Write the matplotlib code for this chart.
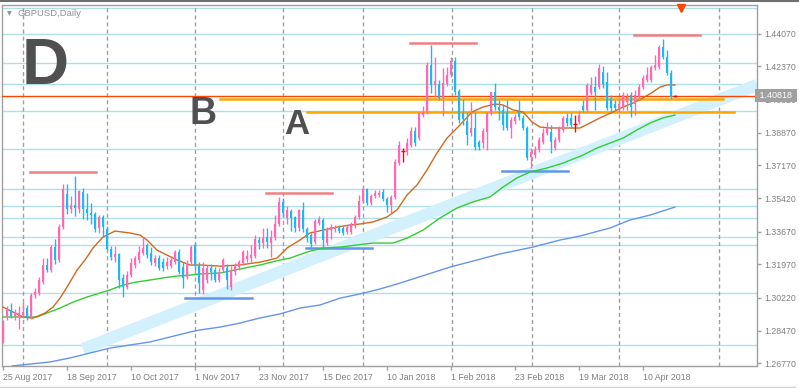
import numpy as np
import matplotlib
matplotlib.use('Agg')
import matplotlib.pyplot as plt
from matplotlib.lines import Line2D
from matplotlib.transforms import blended_transform_factory

plt.rcParams['font.family'] = ['Liberation Sans', 'DejaVu Sans']

## daily GBPUSD candles, one per bar index
opens = [
    1.2794, 1.2920, 1.2956, 1.2925, 1.2920, 1.2930, 1.2967, 1.2920, 1.3035, 1.3046,
    1.3104, 1.3193, 1.3166, 1.3287, 1.3219, 1.3392, 1.3566, 1.3487, 1.3508, 1.3487,
    1.3576, 1.3487, 1.3466, 1.3461, 1.3387, 1.3445, 1.3382, 1.3277, 1.3235, 1.3250,
    1.3125, 1.3077, 1.3140, 1.3193, 1.3219, 1.3256, 1.3298, 1.3256, 1.3203, 1.3229,
    1.3208, 1.3187, 1.3187, 1.3208, 1.3261, 1.3182, 1.3130, 1.3208, 1.3298, 1.3193,
    1.3062, 1.3114, 1.3177, 1.3166, 1.3114, 1.3166, 1.3177, 1.3077, 1.3156, 1.3182,
    1.3203, 1.3224, 1.3229, 1.3240, 1.3324, 1.3308, 1.3340, 1.3308, 1.3340, 1.3408,
    1.3524, 1.3440, 1.3476, 1.3445, 1.3387, 1.3482, 1.3382, 1.3350, 1.3313, 1.3413,
    1.3429, 1.3308, 1.3376, 1.3382, 1.3387, 1.3387, 1.3366, 1.3366, 1.3397, 1.3445,
    1.3529, 1.3592, 1.3518, 1.3555, 1.3560, 1.3576, 1.3539, 1.3508, 1.3550, 1.3728,
    1.3791, 1.3786, 1.3823, 1.3896, 1.3859, 1.3980, 1.3996, 1.4243, 1.4138, 1.4143,
    1.4070, 1.4143, 1.4190, 1.4264, 1.4106, 1.3991, 1.3949, 1.3886, 1.3912, 1.3839,
    1.3833, 1.3891, 1.3991, 1.4101, 1.4022, 1.4007, 1.3996, 1.3912, 1.3949, 1.3996,
    1.3965, 1.3912, 1.3760, 1.3770, 1.3797, 1.3839, 1.3886, 1.3891, 1.3807, 1.3849,
    1.3902, 1.3965, 1.3965, 1.3933, 1.3944, 1.4028, 1.4007, 1.4096, 1.4127, 1.4127,
    1.4206, 1.4154, 1.4070, 1.4038, 1.4017, 1.4022, 1.4049, 1.4085, 1.4038, 1.4075,
    1.4127, 1.4164, 1.4164, 1.4227, 1.4232, 1.4337, 1.4285, 1.4201, 1.4082,
]
highs = [
    1.2904, 1.2977, 1.2993, 1.2962, 1.2977, 1.2998, 1.2983, 1.3046, 1.3072, 1.3130,
    1.3229, 1.3229, 1.3298, 1.3329, 1.3408, 1.3618, 1.3618, 1.3555, 1.3660, 1.3587,
    1.3597, 1.3571, 1.3518, 1.3471, 1.3455, 1.3455, 1.3397, 1.3292, 1.3292, 1.3256,
    1.3146, 1.3161, 1.3229, 1.3240, 1.3292, 1.3340, 1.3308, 1.3287, 1.3245, 1.3245,
    1.3229, 1.3235, 1.3240, 1.3271, 1.3277, 1.3208, 1.3219, 1.3298, 1.3308, 1.3208,
    1.3208, 1.3193, 1.3198, 1.3182, 1.3177, 1.3229, 1.3198, 1.3187, 1.3203, 1.3219,
    1.3271, 1.3271, 1.3298, 1.3350, 1.3340, 1.3387, 1.3387, 1.3376, 1.3455, 1.3550,
    1.3545, 1.3503, 1.3487, 1.3450, 1.3487, 1.3524, 1.3392, 1.3361, 1.3434, 1.3450,
    1.3440, 1.3392, 1.3408, 1.3403, 1.3403, 1.3397, 1.3403, 1.3419, 1.3455, 1.3560,
    1.3602, 1.3597, 1.3566, 1.3587, 1.3587, 1.3592, 1.3550, 1.3560, 1.3749, 1.3844,
    1.3807, 1.3859, 1.3917, 1.3917, 1.3996, 1.4028, 1.4259, 1.4348, 1.4285, 1.4164,
    1.4227, 1.4232, 1.4285, 1.4285, 1.4117, 1.4064, 1.3996, 1.4049, 1.3996, 1.3849,
    1.3912, 1.3996, 1.4101, 1.4148, 1.4059, 1.4033, 1.4059, 1.3970, 1.3986, 1.4059,
    1.3980, 1.3923, 1.3807, 1.3818, 1.3865, 1.3912, 1.3944, 1.3928, 1.3865, 1.3923,
    1.3975, 1.3991, 1.3991, 1.3980, 1.4007, 1.4059, 1.4148, 1.4180, 1.4185, 1.4248,
    1.4238, 1.4206, 1.4085, 1.4059, 1.4070, 1.4101, 1.4096, 1.4101, 1.4112, 1.4143,
    1.4190, 1.4232, 1.4243, 1.4295, 1.4348, 1.4379, 1.4322, 1.4217, 1.4085,
]
lows = [
    1.2783, 1.2904, 1.2914, 1.2904, 1.2857, 1.2914, 1.2904, 1.2909, 1.3019, 1.3035,
    1.3093, 1.3156, 1.3156, 1.3198, 1.3208, 1.3382, 1.3461, 1.3466, 1.3450, 1.3466,
    1.3434, 1.3429, 1.3408, 1.3366, 1.3361, 1.3340, 1.3271, 1.3219, 1.3208, 1.3072,
    1.3025, 1.3067, 1.3130, 1.3177, 1.3203, 1.3245, 1.3229, 1.3193, 1.3187, 1.3166,
    1.3161, 1.3172, 1.3177, 1.3198, 1.3146, 1.3072, 1.3119, 1.3193, 1.3166, 1.3046,
    1.3041, 1.3098, 1.3114, 1.3104, 1.3104, 1.3156, 1.3067, 1.3062, 1.3140, 1.3166,
    1.3193, 1.3208, 1.3208, 1.3229, 1.3277, 1.3282, 1.3282, 1.3235, 1.3324, 1.3397,
    1.3445, 1.3408, 1.3371, 1.3366, 1.3371, 1.3366, 1.3313, 1.3277, 1.3303, 1.3403,
    1.3277, 1.3298, 1.3329, 1.3366, 1.3361, 1.3350, 1.3355, 1.3355, 1.3387, 1.3434,
    1.3518, 1.3508, 1.3508, 1.3545, 1.3550, 1.3529, 1.3471, 1.3466, 1.3539, 1.3718,
    1.3734, 1.3770, 1.3812, 1.3818, 1.3849, 1.3970, 1.3986, 1.4096, 1.4075, 1.4059,
    1.3975, 1.4133, 1.4180, 1.4085, 1.3938, 1.3928, 1.3823, 1.3870, 1.3797, 1.3797,
    1.3807, 1.3797, 1.3980, 1.4007, 1.3954, 1.3902, 1.3902, 1.3859, 1.3933, 1.3954,
    1.3902, 1.3744, 1.3702, 1.3755, 1.3786, 1.3828, 1.3875, 1.3781, 1.3797, 1.3839,
    1.3891, 1.3923, 1.3912, 1.3891, 1.3933, 1.3996, 1.3996, 1.4085, 1.4007, 1.4117,
    1.4122, 1.4007, 1.3996, 1.4007, 1.3996, 1.4007, 1.4007, 1.3970, 1.3980, 1.4059,
    1.4117, 1.4154, 1.4154, 1.4217, 1.4222, 1.4274, 1.4190, 1.4064, 1.4075,
]
closes = [
    1.2888, 1.2956, 1.2925, 1.2946, 1.2941, 1.2946, 1.2920, 1.3035, 1.3051, 1.3114,
    1.3193, 1.3166, 1.3287, 1.3219, 1.3392, 1.3592, 1.3487, 1.3508, 1.3492, 1.3581,
    1.3487, 1.3466, 1.3455, 1.3382, 1.3445, 1.3392, 1.3277, 1.3235, 1.3250, 1.3114,
    1.3077, 1.3140, 1.3203, 1.3229, 1.3261, 1.3282, 1.3245, 1.3208, 1.3229, 1.3177,
    1.3177, 1.3208, 1.3219, 1.3261, 1.3156, 1.3125, 1.3203, 1.3287, 1.3193, 1.3098,
    1.3177, 1.3177, 1.3156, 1.3114, 1.3156, 1.3219, 1.3114, 1.3166, 1.3193, 1.3208,
    1.3261, 1.3240, 1.3245, 1.3329, 1.3308, 1.3334, 1.3313, 1.3340, 1.3408, 1.3524,
    1.3466, 1.3482, 1.3440, 1.3387, 1.3482, 1.3382, 1.3334, 1.3303, 1.3424, 1.3434,
    1.3324, 1.3382, 1.3392, 1.3392, 1.3371, 1.3361, 1.3392, 1.3408, 1.3445, 1.3529,
    1.3592, 1.3518, 1.3555, 1.3571, 1.3571, 1.3539, 1.3508, 1.3550, 1.3734, 1.3823,
    1.3791, 1.3833, 1.3896, 1.3833, 1.3991, 1.3996, 1.4243, 1.4138, 1.4159, 1.4070,
    1.4148, 1.4190, 1.4264, 1.4101, 1.3954, 1.3959, 1.3875, 1.3912, 1.3812, 1.3812,
    1.3896, 1.3991, 1.4101, 1.4022, 1.4007, 1.3928, 1.3912, 1.3954, 1.3970, 1.3970,
    1.3912, 1.3755, 1.3786, 1.3797, 1.3849, 1.3886, 1.3912, 1.3839, 1.3849, 1.3912,
    1.3965, 1.3938, 1.3928, 1.3933, 1.3980, 1.4007, 1.4138, 1.4138, 1.4101, 1.4227,
    1.4143, 1.4017, 1.4017, 1.4017, 1.4038, 1.4085, 1.4075, 1.4022, 1.4085, 1.4127,
    1.4175, 1.4190, 1.4232, 1.4243, 1.4337, 1.4285, 1.4201, 1.4075, 1.4082,
]

date_ticks = [0, 16, 32, 48, 64, 80, 96, 112, 128, 144, 160]
date_labels = ['25 Aug 2017', '18 Sep 2017', '10 Oct 2017', '1 Nov 2017', '23 Nov 2017',
               '15 Dec 2017', '10 Jan 2018', '1 Feb 2018', '23 Feb 2018', '19 Mar 2018',
               '10 Apr 2018']
price_ticks = [1.26770, 1.28470, 1.30220, 1.31970, 1.33670, 1.35420,
               1.37170, 1.38870, 1.40620, 1.42370, 1.44070]
month_starts = [5, 26, 48, 70, 90, 112.25, 132.25, 154, 179]

# moving averages (bar index, price)
ma_fast_x = [0, 2.5, 5, 7.5, 10.5, 12.5, 14.25, 16, 18.5, 20.5, 22.5, 25, 28, 31.75, 34.25,
             36, 38.5, 41, 43.5, 46.75, 49.25, 54.25, 59.25, 64.25, 68.5, 71, 74.25, 76.75,
             80, 83.5, 86.75, 89.25, 92.5, 96, 98.5, 101, 103.5, 106, 108.5, 111, 114.25,
             117.25, 120, 123, 125, 127.5, 130, 132.25, 134.25, 136.75, 141.75, 144.25,
             149.25, 152.5, 155, 157.5, 160, 162.5, 164.25, 166, 168]
ma_fast_y = [1.2972, 1.2946, 1.2920, 1.2914, 1.2941, 1.2972, 1.3019, 1.3077, 1.3166, 1.3219,
             1.3282, 1.3340, 1.3371, 1.3361, 1.3350, 1.3324, 1.3271, 1.3245, 1.3219, 1.3193,
             1.3193, 1.3187, 1.3193, 1.3208, 1.3229, 1.3282, 1.3324, 1.3361, 1.3376, 1.3392,
             1.3403, 1.3408, 1.3419, 1.3445, 1.3482, 1.3560, 1.3613, 1.3692, 1.3781, 1.3859,
             1.3928, 1.3996, 1.4022, 1.4038, 1.4033, 1.4007, 1.3996, 1.3944, 1.3917, 1.3912,
             1.3912, 1.3912, 1.3965, 1.3996, 1.4022, 1.4043, 1.4070, 1.4101, 1.4127, 1.4138,
             1.4138]
ma_mid_x = [0, 5, 8.5, 11, 14.25, 17.5, 21, 24.25, 26.75, 30, 33.5, 36.75, 40, 43.5, 46.75,
            49.25, 54.25, 59.25, 64.25, 69.25, 71.75, 76, 80, 84.25, 88.5, 92.5, 97.5, 101,
            105, 109.25, 113.5, 117.5, 121.75, 125, 128.5, 131.75, 136, 140, 145, 148.5,
            151.75, 155, 158.5, 161.75, 165, 168]
ma_mid_y = [1.2920, 1.2920, 1.2920, 1.2941, 1.2967, 1.2998, 1.3025, 1.3046, 1.3062, 1.3088,
            1.3104, 1.3114, 1.3125, 1.3135, 1.3140, 1.3146, 1.3151, 1.3172, 1.3193, 1.3219,
            1.3229, 1.3261, 1.3282, 1.3287, 1.3298, 1.3308, 1.3308, 1.3334, 1.3376, 1.3440,
            1.3492, 1.3524, 1.3550, 1.3602, 1.3650, 1.3681, 1.3702, 1.3728, 1.3770, 1.3807,
            1.3833, 1.3859, 1.3902, 1.3938, 1.3965, 1.3980]
ma_slow_x = [2.25, 6.75, 11.75, 16.75, 21.75, 26.75, 31.75, 36.75, 41.75, 46.75, 49.25, 54.25,
             59.25, 64.25, 69.25, 74.25, 79.25, 84.25, 89.25, 94.25, 99.25, 111.75, 124.25,
             132.5, 139.25, 144.25, 151.75, 156.75, 161.75, 168]
ma_slow_y = [1.2663, 1.2673, 1.2684, 1.2705, 1.2731, 1.2757, 1.2773, 1.2789, 1.2815, 1.2841,
             1.2852, 1.2867, 1.2888, 1.2915, 1.2936, 1.2967, 1.2983, 1.3019, 1.3041, 1.3067,
             1.3098, 1.3182, 1.3251, 1.3287, 1.3324, 1.3345, 1.3387, 1.3429, 1.3455, 1.3497]

# drawn objects
level_lines = [1.4542, 1.4406, 1.4252, 1.4143, 1.4001, 1.3800, 1.3590, 1.3501,
               1.3438, 1.3338, 1.3296, 1.3044, 1.2771]
high_marks = [(6.75, 23.25, 1.3681), (65.75, 82.25, 1.3572),
              (101.75, 118.25, 1.4358), (157.75, 174.25, 1.4399)]
low_marks = [(45.5, 62.25, 1.3019), (75.75, 92.25, 1.3283), (124.75, 141.25, 1.3688)]
orange_lines = [(54.25, 180.0, 1.4066), (76.0, 182.75, 1.3996)]
channel = ([20, 188.5], [1.2752, 1.4138])
last_price = 1.40818

W, H = 799, 388
fig = plt.figure(figsize=(W / 100, H / 100), dpi=100, facecolor='white')
ax = fig.add_axes([2 / W, 22 / H, 755 / W, 361 / H])
ax.set_xlim(-0.25, 188.5)
ax.set_ylim(1.26628, 1.45576)

grey = '#a0a0a0'
for v in level_lines:
    ax.axhline(v, color='#b0e0e6', lw=1, zorder=1)
for m in month_starts:
    ax.axvline(m, color=grey, lw=1, ls=(0, (2.9, 2.2)), zorder=1)

ax.plot(channel[0], channel[1], color='#d3f1fd', lw=8.8, solid_capstyle='butt', zorder=2)

for x0, x1, v in high_marks:
    ax.plot([x0, x1], [v, v], color='#f08080', lw=1.8, zorder=3)
for x0, x1, v in low_marks:
    ax.plot([x0, x1], [v, v], color='#6495ed', lw=1.8, zorder=3)
for x0, x1, v in orange_lines:
    ax.plot([x0, x1], [v, v], color='#ffa500', lw=1.8, zorder=3)
ax.axhline(last_price, color='#ff4500', lw=1, zorder=3)

ax.plot(ma_slow_x, ma_slow_y, color='#6495ed', lw=1, zorder=4)
ax.plot(ma_mid_x, ma_mid_y, color='#32cd32', lw=1, zorder=4)
ax.plot(ma_fast_x, ma_fast_y, color='#d2691e', lw=1, zorder=4)

o, hi, lo, c = map(np.array, (opens, highs, lows, closes))
idx = np.arange(len(o))
doji = np.isclose(o, c)
up = (c > o) & ~doji
dn = (c < o) & ~doji
for mask, col in [(up, '#ff69b4'), (dn, '#1fb6f5')]:
    ax.vlines(idx[mask], lo[mask], hi[mask], color=col, lw=1, zorder=5)
    ax.bar(idx[mask], np.abs(c - o)[mask], bottom=np.minimum(o, c)[mask],
           width=0.72, color=col, lw=0, zorder=6)
ax.vlines(idx[doji], lo[doji], hi[doji], color='red', lw=1, zorder=5)
ax.hlines(o[doji], idx[doji] - 0.4, idx[doji] + 0.4, color='red', lw=1, zorder=6)

# axes look
for s in ax.spines.values():
    s.set_color(grey)
    s.set_linewidth(1)
ax.yaxis.tick_right()
ax.set_yticks(price_ticks)
ax.set_yticklabels([f'{v:.5f}' for v in price_ticks])
ax.set_xticks(date_ticks)
ax.set_xticklabels(date_labels)
ax.tick_params(axis='both', length=3, width=1, color=grey, labelsize=6.3,
               labelcolor='#808080', pad=2)
plt.setp(ax.get_xticklabels(), ha='left')

tr = blended_transform_factory(ax.transAxes, ax.transData)
ax.text(1.0, last_price, ' 1.40818 ', transform=tr, ha='left', va='center',
        fontsize=6.5, color='white', zorder=20, clip_on=False,
        bbox=dict(boxstyle='square,pad=0.25', fc='#a0a0a0', ec='none'))

# annotations
fig.text(17 / W, 1 - 14 / H, 'GBPUSD,Daily', fontsize=6.8, color='#909090', va='center')
fig.text(7 / W, 1 - 14 / H, '\u25bc', fontsize=4.5, color='#909090', va='center',
         family='DejaVu Sans')
fig.text(22 / W, 1 - 84 / H, 'D', fontsize=47, fontweight='bold', color='#505050',
         va='baseline')
fig.text(190 / W, 1 - 124 / H, 'B', fontsize=27, fontweight='bold', color='#505050',
         va='baseline')
fig.text(284 / W, 1 - 134 / H, 'A', fontsize=25, fontweight='bold', color='#505050',
         va='baseline')
fig.add_artist(Line2D([680.5 / W], [1 - 7.5 / H], marker='v', ms=6, color='#ff4500',
                      transform=fig.transFigure))
fig.add_artist(Line2D([0, 1], [1 - 0.8 / H, 1 - 0.8 / H], color='#6e6e6e', lw=1.5,
                      transform=fig.transFigure))
fig.add_artist(Line2D([0, 795 / W], [1 - 386.5 / H] * 2, color='#d0d0d0', lw=1,
                      transform=fig.transFigure))

fig.savefig('out.png', dpi=100, facecolor='white')
